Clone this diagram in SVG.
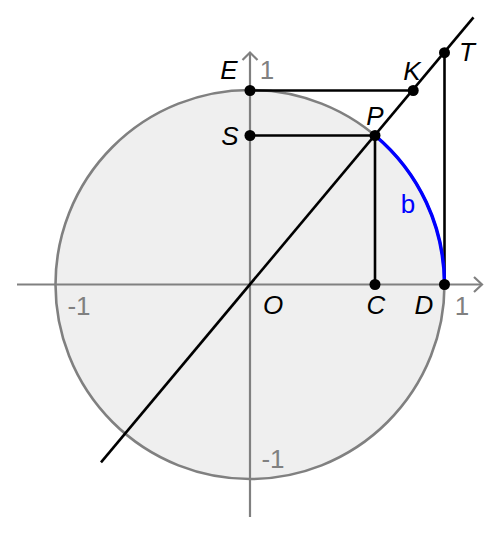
<svg xmlns="http://www.w3.org/2000/svg" width="500" height="535" viewBox="0 0 500 535">
<style>
.axis{stroke:#808080;stroke-width:2.2;fill:none}
.ln{stroke:#000;stroke-width:2.6;fill:none;stroke-linecap:butt}
.dot{fill:#000}
.lbl{font-family:"Liberation Sans",Arial,sans-serif;font-size:26px;font-style:italic;fill:#000;text-anchor:middle}
.num{font-family:"Liberation Sans",Arial,sans-serif;font-size:26px;fill:#808080;text-anchor:middle}
</style>
<rect width="500" height="535" fill="#fff"/>
<g id="circle">
<circle cx="250" cy="284.5" r="194.5" fill="#efefef" stroke="#808080" stroke-width="2.6"/>
</g>
<g id="axes">
<line class="axis" x1="17" y1="284.5" x2="481" y2="284.5"/>
<polyline class="axis" points="474,277 482,284.5 474,292"/>
<line class="axis" x1="250" y1="517" x2="250" y2="53"/>
<polyline class="axis" points="242.5,60 250,52.5 257.5,60"/>
</g>
<g id="connectors">
<line class="ln" x1="101" y1="462.3" x2="473.5" y2="17.3"/>
<line class="ln" x1="250" y1="90.5" x2="413.2" y2="90.5"/>
<line class="ln" x1="250" y1="135.5" x2="375" y2="135.5"/>
<line class="ln" x1="375" y1="135.5" x2="375" y2="284.5"/>
<line class="ln" x1="444.5" y1="52.7" x2="444.5" y2="284.5"/>
<path id="arc-b" d="M375,135.5 A194.5,194.5 0 0 1 444.5,284.5" fill="none" stroke="#0000ff" stroke-width="3.5"/>
</g>
<g id="points">
<g id="O"><text class="lbl" x="273" y="314">O</text></g>
<g id="E"><circle class="dot" cx="250" cy="90.5" r="5.5"/><text class="lbl" x="229" y="78.5">E</text></g>
<g id="S"><circle class="dot" cx="250" cy="135.5" r="5.5"/><text class="lbl" x="230" y="145">S</text></g>
<g id="P"><circle class="dot" cx="375" cy="135.5" r="5.5"/><text class="lbl" x="375" y="125">P</text></g>
<g id="K"><circle class="dot" cx="413.2" cy="90.5" r="5.5"/><text class="lbl" x="412" y="79.5">K</text></g>
<g id="T"><circle class="dot" cx="444.5" cy="52.7" r="5.5"/><text class="lbl" x="467" y="61">T</text></g>
<g id="C"><circle class="dot" cx="375" cy="284.5" r="5.5"/><text class="lbl" x="376" y="314">C</text></g>
<g id="D"><circle class="dot" cx="444.5" cy="284.5" r="5.5"/><text class="lbl" x="424" y="314">D</text></g>
<g id="b"><text x="408" y="212.5" font-family="Liberation Sans,Arial,sans-serif" font-size="26" fill="#0000ff" text-anchor="middle">b</text></g>
</g>
<g id="ticks">
<text class="num" x="267" y="78.5">1</text>
<text class="num" x="462" y="314.5">1</text>
<text class="num" x="79" y="314.5">-1</text>
<text class="num" x="273" y="468">-1</text>
</g>
</svg>
